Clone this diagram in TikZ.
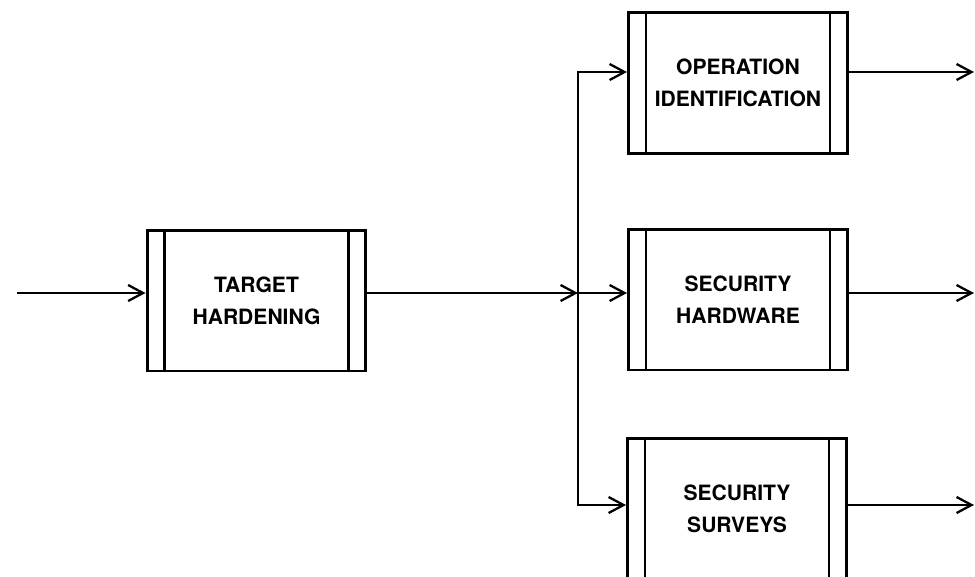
\documentclass[tikz,border=0pt]{standalone}
\usepackage{fontspec}
\setsansfont{TeX Gyre Heros}
\usepackage{tikz}
\usetikzlibrary{arrows.meta, calc}

\begin{document}
\begin{tikzpicture}[
    x=0.02cm, y=-0.02cm,
    >={Straight Barb[length=3mm, width=3.2mm]},
    block/.style={rectangle, draw=black, line width=1.7pt,
                  minimum width=4.38cm, minimum height=2.82cm, align=center,
                  font=\sffamily\bfseries\fontsize{12}{18}\selectfont},
    flow/.style={line width=1.3pt},
    strip/.style={line width=1.2pt}
]
\useasboundingbox (0,0) rectangle (975,576);
\clip (0,0) rectangle (975,576);

\node[block] (target) at (256.5,300.5) {TARGET\\HARDENING};
\node[block] (opid) at (738,83) {OPERATION\\IDENTIFICATION};
\node[block] (hardware) at (738,299.5) {SECURITY\\HARDWARE};
\node[block] (surveys) at (737,508.5) {SECURITY\\SURVEYS};

% side strips of each block
\foreach \b in {target,opid,hardware,surveys} {
    \draw[strip] ([xshift=0.38cm]\b.north west) -- ([xshift=0.38cm]\b.south west);
    \draw[strip] ([xshift=-0.38cm]\b.north east) -- ([xshift=-0.38cm]\b.south east);
}

\coordinate (in) at (17,293);
\coordinate (split) at (578,293);
\coordinate (bustop) at (578,72);
\coordinate (busbot) at (578,505);
\coordinate (out1) at (974,72);
\coordinate (out2) at (974,293);
\coordinate (out3) at (974,505);

\draw[->, flow] (in) -- (in -| target.west);
\draw[->, flow] (split -| target.east) -- (split);

% fan-out to the three measures
\draw[<->, flow] (bustop -| opid.west) -- (bustop) -- (busbot) -- (busbot -| surveys.west);
\draw[->, flow] (split) -- (split -| hardware.west);

\draw[->, flow] (out1 -| opid.east) -- (out1);
\draw[->, flow] (out2 -| hardware.east) -- (out2);
\draw[->, flow] (out3 -| surveys.east) -- (out3);
\end{tikzpicture}
\end{document}
